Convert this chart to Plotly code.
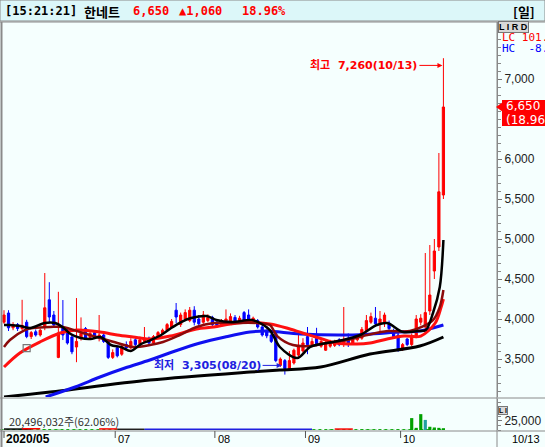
import plotly.graph_objects as go

# ---------------- data ----------------
opens = [3960,4075,3890,3930,3880,3960,3780,3840,3800,3900,4240,4050,3520,3900,3860,3775,3650,3760,3880,3770,
         3830,3780,3800,3720,3520,3640,3560,3680,3640,3740,3690,3720,3760,3700,3770,3820,3860,3900,4110,3930,
         4000,3980,4110,4000,3960,3980,4020,3960,3920,3940,3960,4020,3950,4080,4050,3960,3980,3900,3840,3800,
         3820,3420,3480,3380,3450,3550,3600,3780,3680,3760,3660,3610,3660,3670,3740,3680,3760,3700,3740,3760,
         3850,3960,4010,3940,3950,3950,3850,3800,3620,3750,3680,3780,3960,3900,4100,4600,4900,5550]
highs = [4110,4110,3960,3950,4240,3990,3850,3870,3880,4575,4460,4100,4340,4237,3900,3800,4262,4020,3900,3850,
         3850,4050,3830,3740,3620,3660,3700,3720,3760,3770,3780,3900,3780,3800,3850,3880,3950,4000,4200,4080,
         4120,4150,4160,4050,4100,4060,4040,3990,4000,4120,4070,4050,4040,4100,4120,4030,4000,3940,3870,3840,
         3850,3520,3500,3600,3630,3820,3760,3900,3760,3890,3740,3740,3740,3740,3760,4150,3820,3770,3800,3900,
         4050,4080,4150,4100,4080,3980,3880,3830,3700,3760,3820,4050,4060,4825,4925,5000,6075,7260]
lows = [3940,3850,3860,3850,3860,3760,3750,3780,3780,3860,3960,3900,3510,3737,3680,3560,3460,3730,3750,3740,
        3760,3720,3700,3500,3500,3520,3540,3600,3620,3650,3660,3700,3680,3690,3750,3800,3840,3880,3950,3900,
        3980,3960,3920,3900,3940,3960,3900,3890,3900,3920,3940,3930,3940,3950,3960,3940,3880,3780,3760,3700,
        3460,3400,3305,3350,3430,3530,3580,3560,3660,3660,3640,3600,3640,3650,3660,3650,3650,3680,3720,3740,
        3830,3940,3900,3850,3900,3850,3750,3590,3600,3660,3660,3760,3920,3880,4050,4500,4850,5500]
closes = [4050,3890,3930,3880,3920,3780,3830,3800,3860,4140,4025,3925,3825,3800,3700,3590,3720,3820,3760,3820,
          3780,3800,3720,3520,3580,3540,3660,3640,3720,3680,3740,3760,3700,3780,3830,3860,3930,3970,4025,4050,
          4080,4110,3960,3940,4050,4020,3930,3920,3970,4000,4030,3950,4010,3970,3990,4010,3900,3800,3790,3720,
          3480,3500,3380,3480,3610,3650,3700,3680,3720,3690,3720,3700,3700,3720,3680,3720,3700,3740,3780,3870,
          3980,4030,3940,4000,4050,3880,3780,3620,3680,3680,3780,4000,4010,4080,4300,4850,5590,6650]
day_index = list(range(len(closes)))

volumes = [900,700,600,500,800,600,500,400,500,1500,1200,800,1100,700,600,500,900,600,500,400,
           400,700,500,600,400,400,400,400,400,400,400,500,400,400,500,500,600,700,900,700,
           700,800,600,500,600,500,400,400,400,500,500,400,400,500,500,400,400,400,400,400,
           700,600,800,600,600,700,500,600,400,400,400,400,1500,400,400,900,400,400,400,1200,
           900,900,700,600,600,500,500,800,500,600,33000,6000,44000,28000,9000,7000,6000,5000]

# volume average segments: (start day, end day, level, colour)
vol_avg_segments = [(0, 6, 2600, "#000000"), (4, 8, 3400, "#FF0000"), (21, 25, 3000, "#FF0000"),
                    (25, 31, 2000, "#202020"), (31, 68, 2000, "#2020E0"), (73, 77, 2600, "#FF0000")]

# moving-average lines (day index, price)
ma5_x = [0,1.3,3.6,5.8,9,11.3,12.9,14.7,16.9,19.1,21.3,23.6,25.8,28,30.2,32.4,34.7,36.9,39.1,41.3,44.7,46.9,
         50.2,54.7,56.5,58.7,60.9,64.7,67.6,71.3,74.8,78.6,82.3,84.6,88.1,91.4,93.1,94.7,96.2,97]
ma5_y = [3925,3925,3912,3887,3950,3950,3900,3812,3762,3750,3775,3675,3650,3600,3687,3737,3800,3887,3962,4012,
         4037,3987,3962,3987,3950,3862,3650,3512,3650,3700,3737,3800,3925,3950,3837,3850,3862,4075,4400,4987]
ma10_x = [0,1.3,4.6,6.4,10.2,13,17.4,21.2,25,28.5,32.2,35.1,38.8,42.5,46.3,50,55.8,58.7,60.3,63.8,67.5,71.3,
          75.8,80.2,84.7,89.6,94.7,96.2,97]
ma10_y = [3650,3737,3862,3887,3900,3900,3825,3762,3700,3650,3675,3712,3800,3900,3950,3950,3950,3925,3787,3675,
          3662,3700,3737,3800,3850,3850,3987,4150,4362]
ma20_x = [0,3.5,7.9,12.4,16.1,21.2,25,28.5,32.2,36.7,42.5,46.3,50,54.3,58.7,62.4,65.9,69.6,73.3,77.9,80.8,84.6,
          88.3,92,95.2,96.5,97]
ma20_y = [3400,3575,3712,3825,3862,3837,3800,3775,3750,3787,3875,3900,3937,3962,3937,3887,3825,3762,3700,3687,
          3700,3750,3787,3787,3950,4150,4250]
ma60_x = [9.2,15.7,21.2,26.7,32.2,37.8,43.3,48.8,54.3,58,65.4,76.4,87.4,91.8,97]
ma60_y = [3025,3150,3275,3387,3487,3600,3700,3775,3837,3850,3812,3800,3837,3850,3925]
ma120_x = [0,10.2,32.2,54.3,60.9,69.9,80.8,91.8,97]
ma120_y = [3025,3087,3237,3337,3362,3400,3562,3662,3775]

price_ticks = [3500, 4000, 4500, 5000, 5500, 6000, 7000]
month_start = [25, 47, 67, 88]
month_labels = ["07", "08", "09", "10"]

last_close = closes[-1]
high_val, high_idx = max(highs), highs.index(max(highs))
low_val, low_idx = min(lows), lows.index(min(lows))

# ---------------- figure ----------------
W, H = 545, 447
def px(x): return x / W
def py(y): return 1 - y / H

BG = "#F5FFFE"
KR = "Noto Sans CJK KR"
LAT = "Liberation Sans"
ANNF = "DejaVu Sans, Noto Sans CJK KR"

fig = go.Figure()
fig.add_trace(go.Candlestick(
    x=day_index, open=opens, high=highs, low=lows, close=closes,
    increasing=dict(line=dict(color="#FF0000", width=1), fillcolor="#FF0000"),
    decreasing=dict(line=dict(color="#0000FF", width=1), fillcolor="#0000FF"),
    whiskerwidth=0, showlegend=False, hoverinfo="skip", xaxis="x", yaxis="y"))

for xs, ys, col, w in [(ma120_x, ma120_y, "#000000", 3), (ma60_x, ma60_y, "#1010F0", 3),
                       (ma20_x, ma20_y, "#FF1010", 3), (ma10_x, ma10_y, "#8B0A0A", 2.5),
                       (ma5_x, ma5_y, "#000000", 2.5)]:
    fig.add_trace(go.Scatter(x=xs, y=ys, mode="lines", showlegend=False, hoverinfo="skip",
                             line=dict(color=col, width=w, shape="spline", smoothing=0.9),
                             xaxis="x", yaxis="y"))

# event marker square
fig.add_trace(go.Scatter(x=[5], y=[3637], mode="markers", showlegend=False, hoverinfo="skip",
                         marker=dict(symbol="square-open", size=7, color="#777777", line=dict(width=1.2)),
                         xaxis="x", yaxis="y"))

# volume
vol_colors = ["#00A000"] * len(volumes)
vol_colors[93] = "#20A0A0"
fig.add_trace(go.Bar(x=day_index, y=volumes, marker=dict(color=vol_colors, line=dict(width=0)),
                     width=0.7, showlegend=False, hoverinfo="skip", xaxis="x2", yaxis="y2"))
fig.add_trace(go.Scatter(x=[-0.8, 97], y=[1000, 1000], mode="lines", showlegend=False, hoverinfo="skip",
                         line=dict(color="#00A000", width=1, dash="dot"), xaxis="x2", yaxis="y2"))
for s, e, lvl, col in vol_avg_segments:
    fig.add_trace(go.Scatter(x=[s, e], y=[lvl, lvl], mode="lines", showlegend=False, hoverinfo="skip",
                             line=dict(color=col, width=1.5), xaxis="x2", yaxis="y2"))

xr = [-4 / 4.53, 493 / 4.53]
fig.update_layout(
    width=W, height=H, margin=dict(l=0, r=0, t=0, b=0),
    paper_bgcolor=BG, plot_bgcolor=BG, showlegend=False,
    separators=".,",
    xaxis=dict(domain=[0, px(497)], range=xr, visible=False, rangeslider=dict(visible=False),
               fixedrange=True),
    yaxis=dict(domain=[py(397), py(22)], range=[3025, 7712.5], side="right", showgrid=False,
               zeroline=False, tickvals=price_ticks, tickformat=",d", ticks="outside", ticklen=4,
               tickcolor="#777777", tickfont=dict(family=LAT, size=12, color="#222222"),
               showline=True, linecolor="#888888", linewidth=1,
               minor=dict(ticks="outside", ticklen=3, dtick=100, tick0=0, tickcolor="#888888"),
               fixedrange=True),
    xaxis2=dict(domain=[0, px(497)], range=xr, visible=False, anchor="y2", fixedrange=True),
    yaxis2=dict(domain=[py(430), py(399)], range=[0, 86000], side="right", anchor="x2",
                showgrid=False, zeroline=False, tickvals=[25000], tickformat=",d", ticks="outside",
                ticklen=4, tickcolor="#777777", tickfont=dict(family=LAT, size=12, color="#222222"),
                showline=True, linecolor="#888888", linewidth=1,
                minor=dict(ticks="outside", ticklen=3, dtick=12500, tickcolor="#888888"),
                fixedrange=True),
)

shapes = []
# title bar
shapes.append(dict(type="rect", xref="paper", yref="paper", x0=0, x1=1, y0=py(21), y1=1,
                   fillcolor="#DCF7F9", line=dict(color="#8A8A8A", width=1), layer="below"))
# separators
for yy in [22, 398, 431]:
    shapes.append(dict(type="line", xref="paper", yref="paper", x0=0, x1=1, y0=py(yy), y1=py(yy),
                       line=dict(color="#8A8A8A", width=1)))
shapes.append(dict(type="line", xref="paper", yref="paper", x0=px(1.5), x1=px(1.5), y0=0, y1=py(22),
                   line=dict(color="#8A8A8A", width=2)))
shapes.append(dict(type="line", xref="paper", yref="paper", x0=px(497), x1=px(497), y0=0, y1=py(22),
                   line=dict(color="#8A8A8A", width=1)))
# month tick lines
for m in month_start:
    shapes.append(dict(type="line", xref="x", yref="paper", x0=m - 0.45, x1=m - 0.45,
                       y0=py(438), y1=py(431), line=dict(color="#555555", width=1)))
shapes.append(dict(type="line", xref="paper", yref="paper", x0=px(4), x1=px(4),
                   y0=py(438), y1=py(431), line=dict(color="#555555", width=1)))
# last price tag
shapes.append(dict(type="rect", xref="paper", yref="y", xsizemode="pixel", ysizemode="pixel",
                   xanchor=px(502), yanchor=last_close, x0=0, x1=60, y0=-19, y1=7,
                   fillcolor="#FF0000", line=dict(width=0)))
shapes.append(dict(type="path", xref="paper", yref="y", xsizemode="pixel", ysizemode="pixel",
                   xanchor=px(496), yanchor=last_close, path="M 0 0 L 7 5 L 7 -5 Z",
                   fillcolor="#FF0000", line=dict(width=0)))

ann = []
def t(x, y, text, color="#000000", size=12, family=KR, bold=True, xanchor="left", **kw):
    txt = f"<b>{text}</b>" if bold else text
    d = dict(x=x, y=y, text=txt, showarrow=False, xanchor=xanchor, yanchor="middle",
             font=dict(family=family, size=size, color=color))
    d.update(kw)
    ann.append(d)

t(px(3), py(11), "[15:21:21]", xref="paper", yref="paper", family="DejaVu Sans Mono", size=12)
t(px(82), py(11), "한네트", xref="paper", yref="paper", size=13)
t(px(131), py(11), "6,650", color="#FF0000", xref="paper", yref="paper", family="DejaVu Sans Mono", size=12)
t(px(177), py(11), "▲1,060", color="#FF0000", xref="paper", yref="paper", family="DejaVu Sans Mono", size=12)
t(px(240), py(11), "18.96%", color="#FF0000", xref="paper", yref="paper", family="DejaVu Sans Mono", size=12)
t(px(511), py(11), "[일]", xref="paper", yref="paper", size=13)

# LIRD / LI boxes
ann.append(dict(x=px(498), y=py(27), xref="paper", yref="paper", text="<b>L I R D</b>", showarrow=False,
                xanchor="left", yanchor="middle", font=dict(family=LAT, size=9, color="#000"),
                bgcolor="#D8D8D8", bordercolor="#777", borderwidth=1, borderpad=0))
ann.append(dict(x=px(498), y=py(410), xref="paper", yref="paper", text="<b>L I</b>", showarrow=False,
                xanchor="left", yanchor="middle", font=dict(family=LAT, size=7, color="#000"),
                bgcolor="#D8D8D8", bordercolor="#777", borderwidth=1, borderpad=0))
t(px(500), py(38), "LC 101.45", color="#FF0000", xref="paper", yref="paper", family="DejaVu Sans Mono",
  size=11, bold=False)
t(px(500), py(49), "HC  -8.12", color="#0000FF", xref="paper", yref="paper", family="DejaVu Sans Mono",
  size=11, bold=False)

# price tag text
t(px(504), last_close, f"{last_close:,}", color="#FFFFFF", xref="paper", yref="y", family="DejaVu Sans",
  size=12, bold=False, yshift=1)
t(px(504), last_close, "(18.96%)", color="#FFFFFF", xref="paper", yref="y", family="DejaVu Sans",
  size=12, bold=False, yshift=-13)

# high / low annotations
ann.append(dict(x=high_idx, y=7170, xref="x", yref="y", ax=-24, ay=0, axref="pixel", ayref="pixel",
                text=f"<b>최고  {high_val:,}(10/13)</b>", showarrow=True, arrowhead=2, arrowsize=1,
                arrowwidth=1, arrowcolor="#FF0000", xanchor="right", yanchor="middle",
                font=dict(family=ANNF, size=11, color="#FF0000"), standoff=1))
ann.append(dict(x=low_idx - 0.5, y=3420, xref="x", yref="y", ax=-20, ay=0,
                text=f"<b>최저  {low_val:,}(08/20)</b>", showarrow=True, arrowhead=2, arrowsize=1,
                arrowwidth=1, arrowcolor="#2020E0", xanchor="right", yanchor="middle",
                font=dict(family=ANNF, size=11, color="#2020E0"), standoff=1))

# volume text
t(px(7), py(421), "20,496,032주(62.06%)", color="#333333", xref="paper", yref="paper", size=11,
  bold=False)

# date axis
t(px(4), py(439), "2020/05", xref="paper", yref="paper", family=LAT, size=12)
for m, lab in zip(month_start, month_labels):
    t(m - 0.3, py(439), lab, xref="x", yref="paper", family=LAT, size=11, bold=False)
t(px(510), py(439), "10/13", xref="paper", yref="paper", family=LAT, size=11, bold=False)

fig.update_layout(shapes=shapes, annotations=ann)
fig.write_html("out.html", config={"displayModeBar": False, "staticPlot": True},
               post_script="document.body.style.margin='0';document.body.style.overflow='hidden';")
